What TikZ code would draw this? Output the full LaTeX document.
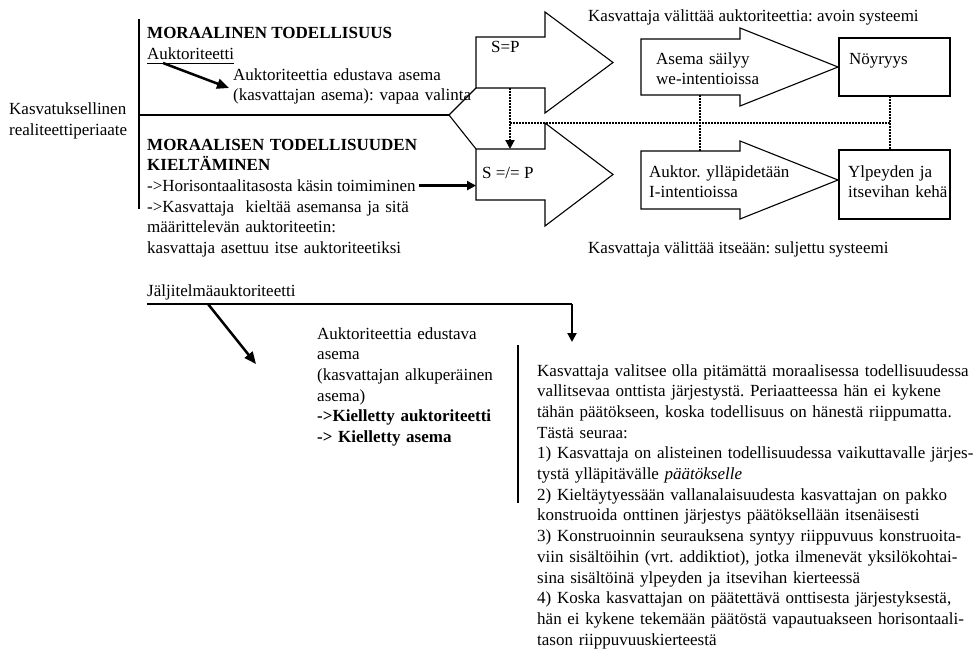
\documentclass[tikz,border=0pt]{standalone}
\usepackage{fontspec}
\setmainfont{Liberation Serif}
\usetikzlibrary{arrows.meta,calc}
\newcommand\diagfont{\fontsize{17}{20.7}\selectfont\frenchspacing}
\begin{document}
\begin{tikzpicture}[x=1pt,y=-1pt,
  every node/.style={font=\diagfont, inner sep=0pt},
  txt/.style={anchor=base west},
  para/.style={anchor=base west, align=left, text width=#1},
  outline/.style={draw=black, line width=1.1pt, line join=miter},
  rulestyle/.style={draw=black, line width=1.1pt},
  bigarrow/.style={line width=2.5pt, -{Triangle[length=12pt,width=10pt]}},
  smallarrow/.style={line width=2.2pt, -{Triangle[length=9pt,width=9pt]}},
  dotline/.style={line width=2pt, dash pattern=on 2pt off 1pt},
]
\useasboundingbox (0,0) rectangle (979,648);

% ---------- left column: the principle and its two branches ----------
\node[para=140] (kr) at (9,114.5) {Kasvatuksellinen\\realiteettiperiaate};
\coordinate (vtop) at (139,19);
\coordinate (vbot) at (139,209);
\coordinate (hmid) at (139,115);
\coordinate (fork) at (449,115);
\draw[rulestyle] (vtop) -- (vbot);
\draw[rulestyle] (hmid) -- (fork);

\node[txt] (mt) at (147,38) {\textbf{MORAALINEN TODELLISUUS}};
\node[txt] (auk) at (147,59) {Auktoriteetti};
\draw[line width=1pt] ($(auk.base west)+(0,4)$) -- ($(auk.base east)+(0,4)$);
\node[para=300] (aea) at (233,80) {Auktoriteettia edustava asema\\(kasvattajan asema): vapaa valinta};
\coordinate (aukfrom) at (163,63);
\coordinate (aukto) at (229,88);
\draw[bigarrow] (aukfrom) -- (aukto);

\node[para=320] (mtk) at (147,150) {\textbf{MORAALISEN TODELLISUUDEN}\\\textbf{KIELTÄMINEN}};
\node[txt] (hor) at (147,191.4) {->Horisontaalitasosta käsin toimiminen};
\node[para=320] (kas) at (147,212.1) {->Kasvattaja\ \ kieltää asemansa ja sitä\\määrittelevän auktoriteetin:\\kasvattaja asettuu itse auktoriteetiksi};

% ---------- the two block arrows S=P and S =/= P ----------
\coordinate (spleft) at (476,62.5);
\draw[outline] (476,37) -- (545,37) -- (545,12) -- (613,62.5) -- (545,113)
  -- (545,88) -- (476,88) -- cycle;
\node[txt] (sp) at (491,52) {S=P};

\coordinate (snpleft) at (476,174.5);
\draw[outline] (476,149) -- (545,149) -- (545,123) -- (613,174.5) -- (545,226)
  -- (545,200) -- (476,200) -- cycle;
\node[txt] (snp) at (482,178) {S =/= P};

% fork from the horizontal line to both arrows
\draw[rulestyle] (476,88) -- (fork) -- (476,149);

% arrow from the horizontal-level action to S =/= P
\draw[smallarrow] ([xshift=3pt]hor.east) -- (hor.east -| snpleft);

% ---------- open system (upper) ----------
\node[txt] (open) at (588,21) {Kasvattaja välittää auktoriteettia: avoin systeemi};
\draw[outline] (641,39) -- (740,39) -- (740,28) -- (838,67) -- (740,106)
  -- (740,95) -- (641,95) -- cycle;
\node[para=120] (asema) at (656,64) {Asema säilyy\\we-intentioissa};
\draw[outline] (839,38) rectangle (950,96);
\node[txt] (noy) at (849,64) {Nöyryys};

% ---------- closed system (lower) ----------
\draw[outline] (641,151) -- (740,151) -- (740,141) -- (838,180) -- (740,219)
  -- (740,209) -- (641,209) -- cycle;
\node[para=150] (aukt) at (649,177) {Auktor. ylläpidetään\\I-intentioissa};
\draw[outline] (839,150) rectangle (950,219);
\node[para=110] (ylp) at (848,177) {Ylpeyden ja\\itsevihan kehä};
\node[txt] (closed) at (588,253) {Kasvattaja välittää itseään: suljettu systeemi};

% ---------- dotted links between the two systems ----------
\coordinate (spbot) at (510,88);
\coordinate (snptop) at (510,149);
\coordinate (dl) at (510,123);
\coordinate (dr) at (890,123);
\coordinate (amidtop) at (700,95);
\coordinate (amidbot) at (700,151);
\coordinate (bxtop) at (890,96);
\coordinate (bxbot) at (890,150);
\draw[dotline, -{Triangle[length=9pt,width=9pt]}] (spbot) -- (snptop);
\draw[dotline] (dl) -- (dr);
\draw[dotline] (amidtop) -- (amidbot);
\draw[dotline] (bxtop) -- (bxbot);

% ---------- imitation authority ----------
\node[txt] (jal) at (147,296) {Jäljitelmäauktoriteetti};
\coordinate (jl0) at (147,304);
\coordinate (jl1) at (572,304);
\coordinate (jdown) at (572,342);
\coordinate (jfrom) at (208,304);
\coordinate (jto) at (256,364);
\draw[rulestyle] (jl0) -- (jl1);
\draw[smallarrow] (jl1) -- (jdown);
\draw[bigarrow] (jfrom) -- (jto);

\node[para=200] (aea2) at (317,339) {Auktoriteettia edustava\\asema\\(kasvattajan alkuperäinen\\asema)\\\textbf{->Kielletty auktoriteetti}\\\textbf{-> Kielletty asema}};

\coordinate (vr0) at (518,345);
\coordinate (vr1) at (518,503);
\draw[rulestyle] (vr0) -- (vr1);

\node[para=460] (expl) at (537,376) {Kasvattaja valitsee olla pitämättä moraalisessa todellisuudessa\\
vallitsevaa onttista järjestystä. Periaatteessa hän ei kykene\\
tähän päätökseen, koska todellisuus on hänestä riippumatta.\\
Tästä seuraa:\\
1) Kasvattaja on alisteinen todellisuudessa vaikuttavalle järjes-\\
tystä ylläpitävälle \textit{päätökselle}\\
2) Kieltäytyessään vallanalaisuudesta kasvattajan on pakko\\
konstruoida onttinen järjestys päätöksellään itsenäisesti\\
3) Konstruoinnin seurauksena syntyy riippuvuus konstruoita-\\
viin sisältöihin (vrt. addiktiot), jotka ilmenevät yksilökohtai-\\
sina sisältöinä ylpeyden ja itsevihan kierteessä\\
4) Koska kasvattajan on päätettävä onttisesta järjestyksestä,\\
hän ei kykene tekemään päätöstä vapautuakseen horisontaali-\\
tason riippuvuuskierteestä};
\end{tikzpicture}
\end{document}
